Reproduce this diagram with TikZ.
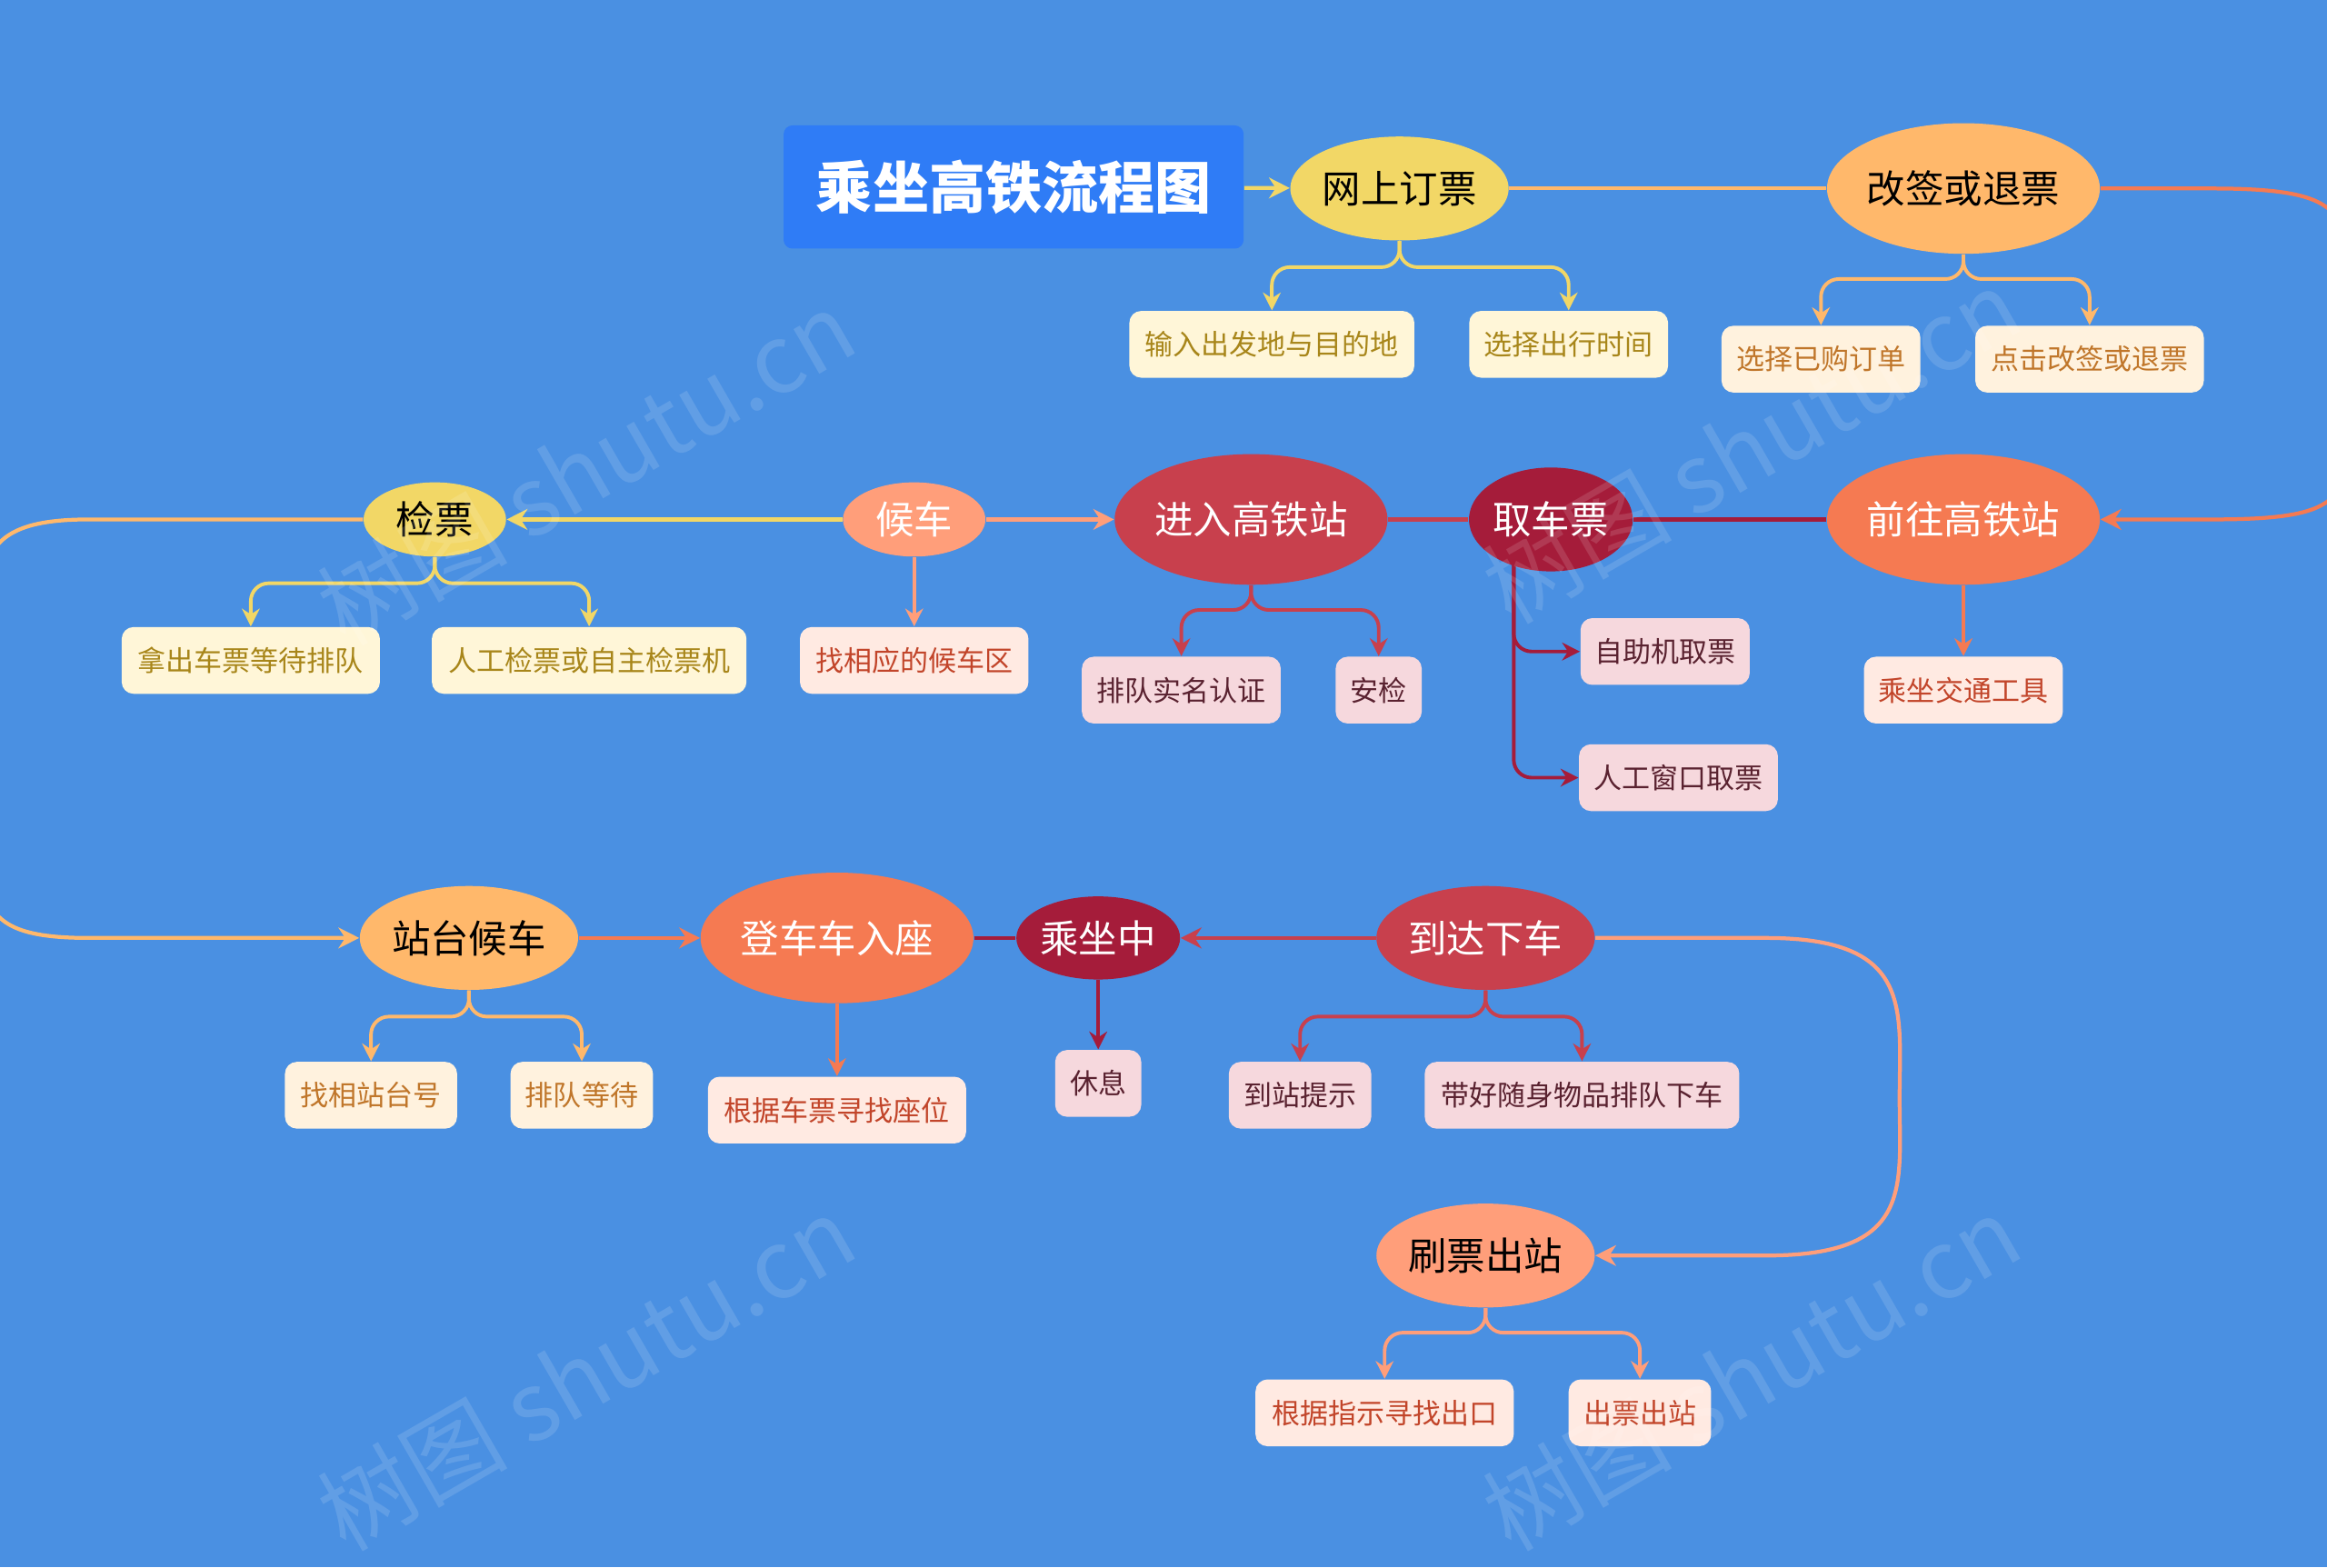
\documentclass[tikz,border=0pt]{standalone}
\usepackage{fontspec}
\setmainfont{Noto Sans CJK SC}
\usetikzlibrary{shapes.geometric,arrows.meta}
\definecolor{bg}{HTML}{4A90E2}
\definecolor{tbox}{HTML}{2F7CF6}
\definecolor{cy}{HTML}{F2D766}
\definecolor{co}{HTML}{FFB86B}
\definecolor{cs}{HTML}{FF9E7A}
\definecolor{cr}{HTML}{C8404D}
\definecolor{cd}{HTML}{A51C3A}
\definecolor{cor}{HTML}{F57A52}
\definecolor{ly}{HTML}{FFF6D8}
\definecolor{lo}{HTML}{FFF2DE}
\definecolor{ls}{HTML}{FFEAE2}
\definecolor{lp}{HTML}{F6D8DD}
\definecolor{ty}{HTML}{A8861A}
\definecolor{to}{HTML}{C0762A}
\definecolor{ts}{HTML}{C2452A}
\definecolor{tp}{HTML}{5A2230}
\tikzset{
 ell/.style={ellipse,inner sep=0pt,font=\fontsize{13}{15}\selectfont},
 leaf/.style={rectangle,rounded corners=4pt,minimum height=22.5pt,inner sep=0pt,font=\fontsize{9.5}{11}\selectfont},
 arr/.style={-{Stealth[length=7pt,width=7pt]},line width=1.3pt},
 ln/.style={line width=1.3pt},
 br/.style={-{Stealth[length=6pt,width=6pt]},line width=1.2pt,rounded corners=6pt},
 wm/.style={rotate=30,text=white,opacity=0.13,font=\fontsize{32}{34}\selectfont}
}
\begin{document}
\begin{tikzpicture}[x=0.5pt,y=-0.5pt]
\fill[bg] (0,0) rectangle (1568,1056);
\useasboundingbox (0,0) rectangle (1568,1056);
\begin{scope}
\clip (0,0) rectangle (1568,1056);
% title
\node[fill=tbox,rounded corners=3pt,minimum width=155pt,minimum height=41.5pt,text=white,font=\fontsize{19}{21}\selectfont\bfseries] (title) at (683,126) {乘坐高铁流程图};
% main nodes
\node[ell,fill=cy,minimum width=70pt,minimum height=35pt] (wang) at (943,127) {网上订票};
\node[ell,fill=co,minimum width=87pt,minimum height=44pt] (gai) at (1323,127) {改签或退票};
\node[ell,fill=cor,minimum width=87pt,minimum height=44pt,text=white] (qw) at (1323,350) {前往高铁站};
\node[ell,fill=cd,minimum width=52pt,minimum height=35pt,text=white] (qc) at (1045,350) {取车票};
\node[ell,fill=cr,minimum width=87pt,minimum height=44pt,text=white] (jr) at (843,350) {进入高铁站};
\node[ell,fill=cs,minimum width=48pt,minimum height=25pt,text=white] (hc) at (616,350) {候车};
\node[ell,fill=cy,minimum width=48pt,minimum height=25pt] (jp) at (293,350) {检票};
\node[ell,fill=co,minimum width=70pt,minimum height=35pt] (zt) at (316,632) {站台候车};
\node[ell,fill=cor,minimum width=87pt,minimum height=44pt,text=white] (dc) at (564,632) {登车车入座};
\node[ell,fill=cd,minimum width=52pt,minimum height=28pt,text=white] (cz) at (740,632) {乘坐中};
\node[ell,fill=cr,minimum width=70pt,minimum height=35pt,text=white] (dd) at (1001,632) {到达下车};
\node[ell,fill=cs,minimum width=70pt,minimum height=35pt] (sp) at (1001,846) {刷票出站};
% leaves
\node[leaf,fill=ly,text=ty,minimum width=96pt] (a1) at (857,232) {输入出发地与目的地};
\node[leaf,fill=ly,text=ty,minimum width=67pt] (a2) at (1057,232) {选择出行时间};
\node[leaf,fill=lo,text=to,minimum width=67pt] (b1) at (1227,242) {选择已购订单};
\node[leaf,fill=lo,text=to,minimum width=77pt] (b2) at (1408,242) {点击改签或退票};
\node[leaf,fill=ls,text=ts,minimum width=67pt] (c1) at (1323,465) {乘坐交通工具};
\node[leaf,fill=lp,text=tp,minimum width=57pt] (d1) at (1122,439) {自助机取票};
\node[leaf,fill=lp,text=tp,minimum width=67pt] (d2) at (1131,524) {人工窗口取票};
\node[leaf,fill=lp,text=tp,minimum width=67pt] (e1) at (796,465) {排队实名认证};
\node[leaf,fill=lp,text=tp,minimum width=29pt] (e2) at (929,465) {安检};
\node[leaf,fill=ls,text=ts,minimum width=77pt] (f1) at (616,445) {找相应的候车区};
\node[leaf,fill=ly,text=ty,minimum width=87pt] (g1) at (169,445) {拿出车票等待排队};
\node[leaf,fill=ly,text=ty,minimum width=106pt] (g2) at (397,445) {人工检票或自主检票机};
\node[leaf,fill=lo,text=to,minimum width=58pt] (h1) at (250,738) {找相站台号};
\node[leaf,fill=lo,text=to,minimum width=48pt] (h2) at (392,738) {排队等待};
\node[leaf,fill=ls,text=ts,minimum width=87pt] (i1) at (564,748) {根据车票寻找座位};
\node[leaf,fill=lp,text=tp,minimum width=29pt] (j1) at (740,730) {休息};
\node[leaf,fill=lp,text=tp,minimum width=48pt] (k1) at (876,738) {到站提示};
\node[leaf,fill=lp,text=tp,minimum width=106pt] (k2) at (1066,738) {带好随身物品排队下车};
\node[leaf,fill=ls,text=ts,minimum width=87pt] (l1) at (933,952) {根据指示寻找出口};
\node[leaf,fill=ls,text=ts,minimum width=48pt] (l2) at (1105,952) {出票出站};
% main connectors
\draw[arr,cy] (title) -- (wang);
\draw[ln,co] (wang) -- (gai);
\draw[arr,cor] (gai.east) -- (1490,127) .. controls (1600,127) and (1580,150) .. (1580,240) .. controls (1580,330) and (1600,350) .. (1490,350) -- (qw.east);
\draw[ln,cd] (qw) -- (qc);
\draw[ln,cr] (qc) -- (jr);
\draw[arr,cs] (hc) -- (jr);
\draw[arr,cy] (hc) -- (jp);
\draw[arr,co] (jp.west) -- (60,350) .. controls (-30,350) and (-12,390) .. (-12,490) .. controls (-12,600) and (-30,632) .. (60,632) -- (zt.west);
\draw[arr,cor] (zt) -- (dc);
\draw[ln,cd] (dc) -- (cz);
\draw[arr,cr] (dd) -- (cz);
\draw[arr,cs] (dd.east) -- (1190,632) .. controls (1290,632) and (1280,680) .. (1280,740) .. controls (1280,800) and (1290,846) .. (1190,846) -- (sp.east);
% children
\draw[br,cy] (wang.south) -- (943,180) -| (a1.north);
\draw[br,cy] (wang.south) -- (943,180) -| (a2.north);
\draw[br,co] (gai.south) -- (1323,188) -| (b1.north);
\draw[br,co] (gai.south) -- (1323,188) -| (b2.north);
\draw[br,cor] (qw.south) -- (c1.north);
\draw[br,cd] (1020,378) |- (d1.west);
\draw[br,cd] (1020,378) |- (d2.west);
\draw[br,cr] (jr.south) -- (843,411) -| (e1.north);
\draw[br,cr] (jr.south) -- (843,411) -| (e2.north);
\draw[br,cs] (hc.south) -- (f1.north);
\draw[br,cy] (jp.south) -- (293,393) -| (g1.north);
\draw[br,cy] (jp.south) -- (293,393) -| (g2.north);
\draw[br,co] (zt.south) -- (316,685) -| (h1.north);
\draw[br,co] (zt.south) -- (316,685) -| (h2.north);
\draw[br,cor] (dc.south) -- (i1.north);
\draw[br,cd] (cz.south) -- (j1.north);
\draw[br,cr] (dd.south) -- (1001,685) -| (k1.north);
\draw[br,cr] (dd.south) -- (1001,685) -| (k2.north);
\draw[br,cs] (sp.south) -- (1001,898) -| (l1.north);
\draw[br,cs] (sp.south) -- (1001,898) -| (l2.north);
% watermarks
\node[wm] at (395,315) {树图 shutu.cn};
\node[wm] at (1180,300) {树图 shutu.cn};
\node[wm] at (395,925) {树图 shutu.cn};
\node[wm] at (1180,925) {树图 shutu.cn};
\end{scope}
\end{tikzpicture}
\end{document}
